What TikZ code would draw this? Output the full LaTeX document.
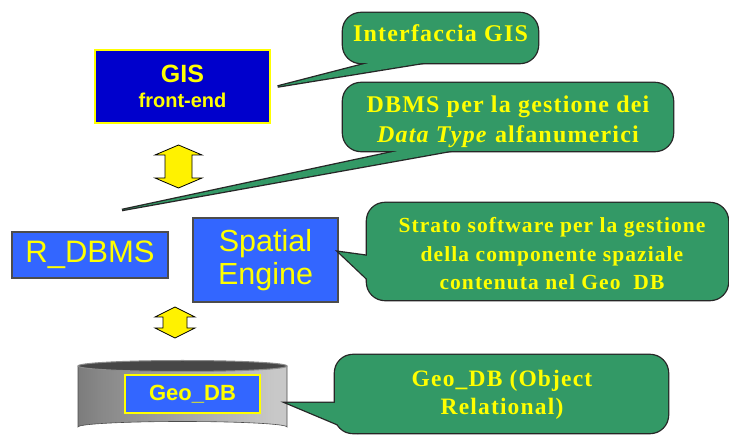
\documentclass[tikz,border=0pt]{standalone}
\usepackage{fontspec}
\setmainfont{Liberation Serif}
\setsansfont{Liberation Sans}
\newfontfamily\cfont[LetterSpace=5]{Liberation Serif}
\definecolor{gisblue}{RGB}{0,0,204}
\definecolor{boxblue}{RGB}{51,102,255}
\definecolor{cgreen}{RGB}{51,153,102}
\definecolor{cyellow}{RGB}{255,255,0}
\definecolor{cylA}{RGB}{70,70,70}
\definecolor{cylB}{RGB}{135,135,135}
\definecolor{cylC}{RGB}{200,200,200}
\definecolor{cylD}{RGB}{110,110,110}
\pgfdeclarehorizontalshading{cylshade}{100bp}{color(0bp)=(cylA); color(30bp)=(cylB); color(72bp)=(cylC); color(85bp)=(cylC); color(100bp)=(cylD)}
\newcommand\mycallout[3]{%
  \draw[cshape, rounded corners=18] #1 rectangle #2;
  \draw[cshape] #3 -- cycle;
  \fill[cfill, rounded corners=18] #1 rectangle #2;
  \fill[cfill] #3 -- cycle;
}
\begin{document}
\begin{tikzpicture}[x=1pt,y=-1pt,
  bluebox/.style={draw=black!70, line width=1.6pt, fill=boxblue, text=cyellow, font=\sffamily, inner sep=0pt, align=center},
  gisbox/.style={draw=cyellow, line width=1.4pt, fill=gisblue, text=cyellow, font=\sffamily\bfseries, inner sep=0pt, align=center},
  cshape/.style={line width=2.6pt, draw=black!85},
  cfill/.style={fill=cgreen},
  ctext/.style={text=cyellow, font=\cfont\bfseries, align=center, inner sep=0pt},
  updown/.style={fill=yellow, draw=black, line width=0.8pt, line join=miter}]
\useasboundingbox (0,0) rectangle (729,435);

% boxes
\node[gisbox, minimum width=175, minimum height=73, font=\sffamily\bfseries\fontsize{20}{25}\selectfont] (gis) at (182.5,86.5)
  {{\fontsize{25}{25}\selectfont GIS}\\front-end};
\node[bluebox, minimum width=156, minimum height=46, font=\sffamily\fontsize{31}{33}\selectfont] (rdbms) at (90,255) {R\_DBMS};
\node[bluebox, minimum width=145, minimum height=84, font=\sffamily\fontsize{30.5}{33}\selectfont] (spatial) at (265.5,260) {Spatial\\Engine};

% cylinder
\shade[shading=cylshade, draw=black!70, line width=0.6pt]
  (78,366) -- (78,427) arc (180:360:104.5 and 5.5) -- (287,366) -- cycle;
\filldraw[fill=black!72, draw=black!45, line width=1pt] (182.5,366) ellipse (104.5 and 5.5);
\node[draw=cyellow, line width=1.3pt, fill=boxblue, text=cyellow, font=\sffamily\bfseries\fontsize{22}{24}\selectfont,
  minimum width=135, minimum height=38, inner sep=0pt] (geodb) at (192.5,394) {Geo\_DB};

% double arrows
\filldraw[updown] (178.5,145) -- (202,155) -- (192,155) -- (192,178) -- (202,178) -- (178.5,188)
  -- (155,178) -- (165,178) -- (165,155) -- (155,155) -- cycle;
\filldraw[updown] (175,307) -- (195,317) -- (187,317) -- (187,328) -- (195,328) -- (175,338)
  -- (155,328) -- (163,328) -- (163,317) -- (155,317) -- cycle;

% callouts
\coordinate (tip1) at ([xshift=7]gis.east);
\coordinate (tip2) at (122,210);
\coordinate (tip3) at ([yshift=8]spatial.east);
\coordinate (tip4) at (287,403);

\mycallout{(343,13)}{(538,63)}{(tip1) -- (392,57) -- (459.5,57)}
\mycallout{(343,83)}{(673,151)}{(tip2) -- (444.7,141) -- (505.5,141)}
\mycallout{(367,203)}{(728,300)}{(tip3) -- (377,257.2) -- (377,288.2)}
\mycallout{(335,355)}{(668,433)}{(tip4) -- (347,403) -- (356,432)}

\node[ctext, font=\cfont\bfseries\fontsize{24}{30}\selectfont, anchor=base] (t1) at (440.5,42) {Interfaccia GIS};
\node[ctext, font=\cfont\bfseries\fontsize{24}{30}\selectfont] (t2) at (508,121.5)
  {DBMS per la gestione dei\\\textit{Data Type} alfanumerici};
\node[ctext, font=\cfont\bfseries\fontsize{21.5}{28.5}\selectfont] (t3) at (552,254)
  {Strato software per la gestione\\della componente spaziale\\contenuta nel Geo\ \ DB};
\node[ctext, font=\cfont\bfseries\fontsize{23.5}{28}\selectfont] (t4) at (502,395.2)
  {Geo\_DB (Object\\Relational)};
\end{tikzpicture}
\end{document}
